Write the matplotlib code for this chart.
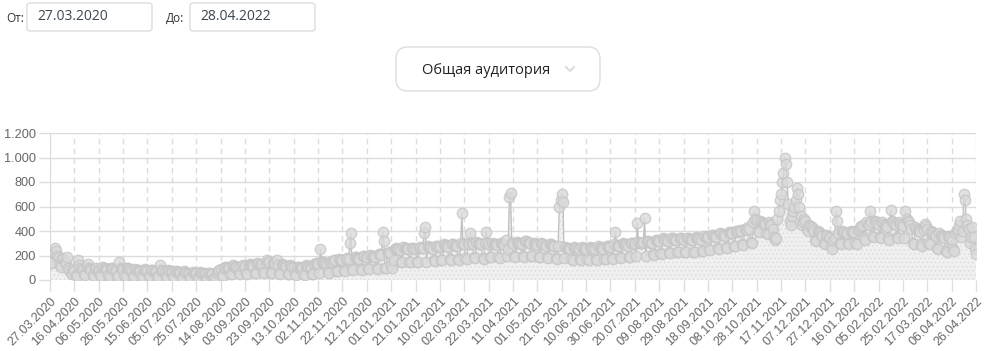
import numpy as np
import matplotlib
matplotlib.use('Agg')
import matplotlib.pyplot as plt
from matplotlib.patches import FancyBboxPatch

plt.rcParams['font.family'] = ['Liberation Sans', 'DejaVu Sans']
plt.rcParams['hatch.linewidth'] = 0.4
plt.rcParams['hatch.color'] = '#d4d4d4'

# date range shown in the inputs
date_from = '27.03.2020'
date_to = '28.04.2022'
dropdown_label = 'Общая аудитория'

# x tick labels (one every 20 days)
tick_labels = ['27.03.2020', '16.04.2020', '06.05.2020', '26.05.2020', '15.06.2020',
               '05.07.2020', '25.07.2020', '14.08.2020', '03.09.2020', '23.09.2020',
               '13.10.2020', '02.11.2020', '22.11.2020', '12.12.2020', '01.01.2021',
               '21.01.2021', '10.02.2021', '02.03.2021', '22.03.2021', '11.04.2021',
               '01.05.2021', '21.05.2021', '10.06.2021', '30.06.2021', '20.07.2021',
               '09.08.2021', '29.08.2021', '18.09.2021', '08.10.2021', '28.10.2021',
               '17.11.2021', '07.12.2021', '27.12.2021', '16.01.2022', '05.02.2022',
               '25.02.2022', '17.03.2022', '06.04.2022', '26.04.2022']

y_ticks = [0, 200, 400, 600, 800, 1000, 1200]
y_tick_labels = ['0', '200', '400', '600', '800', '1.000', '1.200']

# daily audience, 20 days per row (row = one tick interval)
audience = [
    200, 150, 140, 230, 265, 240, 200, 190, 120, 110, 180, 170, 150, 140, 190, 100, 80, 60, 50, 90,
    70, 40, 35, 160, 120, 100, 90, 80, 45, 40, 110, 130, 100, 90, 80, 40, 35, 90, 100, 85,
    80, 40, 35, 110, 100, 95, 90, 85, 40, 35, 100, 95, 90, 80, 75, 35, 30, 150, 100, 90,
    85, 40, 35, 100, 95, 90, 80, 75, 35, 30, 90, 85, 80, 75, 70, 35, 30, 85, 90, 80,
    75, 30, 30, 85, 80, 75, 70, 65, 30, 25, 120, 80, 75, 70, 65, 30, 25, 80, 75, 70,
    65, 25, 25, 75, 70, 65, 60, 55, 25, 20, 70, 65, 60, 55, 50, 25, 20, 65, 60, 55,
    55, 20, 20, 65, 60, 55, 55, 50, 20, 15, 60, 55, 50, 50, 5, 15, 15, 60, 70, 80,
    90, 40, 35, 100, 110, 105, 100, 95, 50, 45, 120, 115, 110, 105, 100, 55, 50, 115, 120, 110,
    115, 55, 50, 125, 130, 125, 120, 115, 60, 55, 135, 130, 125, 120, 130, 65, 60, 140, 160, 150,
    145, 60, 55, 140, 135, 130, 160, 125, 55, 50, 130, 125, 120, 115, 110, 50, 45, 120, 115, 110,
    105, 45, 40, 110, 105, 100, 100, 95, 45, 40, 120, 115, 110, 105, 100, 50, 45, 130, 140, 135,
    130, 60, 250, 150, 145, 140, 135, 130, 65, 60, 150, 145, 150, 165, 160, 75, 70, 170, 165, 160,
    160, 80, 75, 175, 180, 170, 300, 380, 90, 85, 190, 185, 180, 175, 170, 90, 85, 200, 195, 190,
    190, 95, 90, 205, 200, 195, 190, 185, 95, 90, 215, 210, 205, 390, 320, 100, 100, 220, 225, 220,
    120, 100, 160, 250, 260, 255, 250, 245, 150, 145, 270, 265, 260, 255, 250, 150, 145, 265, 260, 255,
    250, 150, 145, 265, 270, 265, 260, 380, 435, 150, 275, 270, 265, 260, 255, 160, 155, 280, 275, 270,
    275, 165, 160, 290, 285, 280, 275, 270, 170, 165, 295, 290, 285, 280, 275, 170, 165, 300, 545, 290,
    290, 180, 175, 300, 295, 385, 300, 290, 185, 180, 310, 305, 300, 295, 290, 180, 175, 305, 395, 300,
    295, 190, 185, 300, 295, 290, 290, 285, 185, 180, 300, 295, 290, 285, 330, 200, 250, 680, 710, 300,
    290, 195, 190, 310, 305, 300, 295, 290, 195, 190, 320, 315, 310, 305, 300, 200, 195, 300, 295, 290,
    285, 190, 185, 300, 295, 290, 285, 280, 185, 180, 295, 290, 285, 280, 275, 180, 175, 280, 600, 650,
    705, 640, 180, 270, 265, 260, 255, 250, 170, 165, 270, 265, 260, 255, 250, 170, 165, 270, 265, 260,
    255, 170, 165, 270, 265, 260, 255, 250, 170, 165, 275, 270, 265, 260, 255, 175, 170, 280, 275, 270,
    270, 180, 175, 290, 395, 285, 280, 275, 185, 180, 300, 295, 290, 285, 280, 190, 185, 305, 300, 295,
    300, 195, 465, 310, 305, 300, 305, 310, 505, 195, 320, 315, 310, 305, 300, 210, 205, 330, 325, 320,
    320, 220, 215, 340, 335, 330, 325, 320, 225, 220, 345, 340, 335, 330, 325, 230, 225, 345, 340, 335,
    330, 230, 225, 345, 340, 335, 330, 325, 230, 225, 350, 345, 340, 335, 330, 240, 235, 360, 355, 350,
    350, 250, 245, 370, 365, 360, 355, 350, 260, 255, 380, 375, 370, 365, 360, 270, 265, 390, 385, 380,
    385, 280, 275, 400, 395, 400, 405, 400, 290, 285, 420, 415, 410, 430, 420, 310, 305, 470, 560, 500,
    490, 400, 390, 480, 470, 465, 460, 455, 380, 375, 470, 460, 450, 420, 350, 330, 340, 500, 560, 650,
    700, 800, 870, 1000, 950, 800, 620, 480, 450, 520, 560, 600, 650, 750, 700, 600, 520, 450, 470, 500,
    480, 420, 400, 450, 440, 430, 420, 400, 330, 320, 400, 390, 380, 370, 360, 300, 290, 370, 360, 350,
    340, 280, 250, 330, 340, 560, 480, 380, 300, 290, 400, 395, 390, 385, 380, 300, 295, 400, 395, 390,
    390, 300, 295, 410, 420, 430, 440, 450, 340, 330, 470, 460, 450, 560, 470, 360, 350, 480, 470, 460,
    450, 350, 340, 470, 460, 450, 440, 430, 340, 330, 570, 480, 470, 460, 450, 350, 340, 470, 460, 450,
    440, 340, 560, 500, 480, 470, 450, 420, 300, 290, 430, 420, 410, 400, 390, 290, 280, 410, 460, 440,
    420, 300, 290, 400, 390, 380, 370, 360, 260, 250, 380, 370, 360, 350, 340, 240, 230, 360, 350, 340,
    330, 250, 240, 380, 400, 420, 450, 480, 350, 400, 700, 650, 500, 450, 420, 300, 350, 430, 350, 250,
    210,
]

W, H = 986, 351
fig = plt.figure(figsize=(W / 100, H / 100), dpi=100)

# main chart area (pixel box: x 50..976, y 133..280)
ax = fig.add_axes([50 / W, 1 - 280 / H, 926 / W, 147 / H])
days = np.arange(len(audience))
ax.fill_between(days, audience, 0, facecolor='#f0f0f0', edgecolor='none', linewidth=0, zorder=2)
ax.fill_between(days, audience, 0, facecolor='none', hatch='....', edgecolor='#d6d6d6',
                linewidth=0, zorder=2)
ax.plot(days, audience, color='#b5b5b5', linewidth=1.0, zorder=3,
        marker='o', markersize=7.5, markerfacecolor='#dadada', markeredgecolor='#c6c6c6',
        markeredgewidth=1.0, alpha=0.8)

ax.set_xlim(0, len(audience) - 1)
ax.set_ylim(0, 1200)
ax.set_xticks(np.arange(0, len(audience), 20))
ax.set_xticklabels(tick_labels, rotation=45, ha='right', rotation_mode='anchor',
                   fontsize=9, color='#666666')
ax.set_yticks(y_ticks)
ax.set_yticklabels(y_tick_labels, fontsize=9.2, color='#666666')
ax.tick_params(axis='both', length=8, color='#dddddd', width=1, pad=2)
ax.tick_params(axis='x', pad=3)
ax.grid(axis='y', color='#dcdcdc', linewidth=1, linestyle='-', zorder=0)
ax.grid(axis='x', color='#dcdcdc', linewidth=1, linestyle=(0, (4, 3)), zorder=0)
ax.set_axisbelow(True)
for side in ['top', 'right', 'bottom']:
    ax.spines[side].set_visible(False)
ax.spines['left'].set_color('#dcdcdc')

# header widgets drawn in pixel coordinates
ov = fig.add_axes([0, 0, 1, 1], zorder=5)
ov.set_xlim(0, W)
ov.set_ylim(H, 0)
ov.axis('off')
ov.patch.set_alpha(0)

ui_font = ['Open Sans', 'DejaVu Sans']
ov.text(6, 18, 'От:', fontsize=8.5, color='#333333', va='center', family=ui_font)
ov.add_patch(FancyBboxPatch((27, 3), 125, 28, boxstyle='round,pad=0,rounding_size=3',
                            facecolor='white', edgecolor='#dddddd', linewidth=1))
ov.text(37, 17, date_from, fontsize=10, color='#3d4650', va='center', family=ui_font)

ov.text(166, 18, 'До:', fontsize=8.5, color='#333333', va='center', family=ui_font)
ov.add_patch(FancyBboxPatch((190, 3), 125, 28, boxstyle='round,pad=0,rounding_size=3',
                            facecolor='white', edgecolor='#dddddd', linewidth=1))
ov.text(200, 17, date_to, fontsize=10, color='#3d4650', va='center', family=ui_font)

ov.add_patch(FancyBboxPatch((396, 47), 204, 44, boxstyle='round,pad=0,rounding_size=12',
                            facecolor='white', edgecolor='#dddddd', linewidth=1))
ov.text(486, 70, dropdown_label, fontsize=10.5, color='#222222', va='center', ha='center',
        family=ui_font)
ov.plot([566, 570, 574], [67, 71, 67], color='#dddddd', linewidth=1.5)

fig.savefig('out.png', dpi=100)
